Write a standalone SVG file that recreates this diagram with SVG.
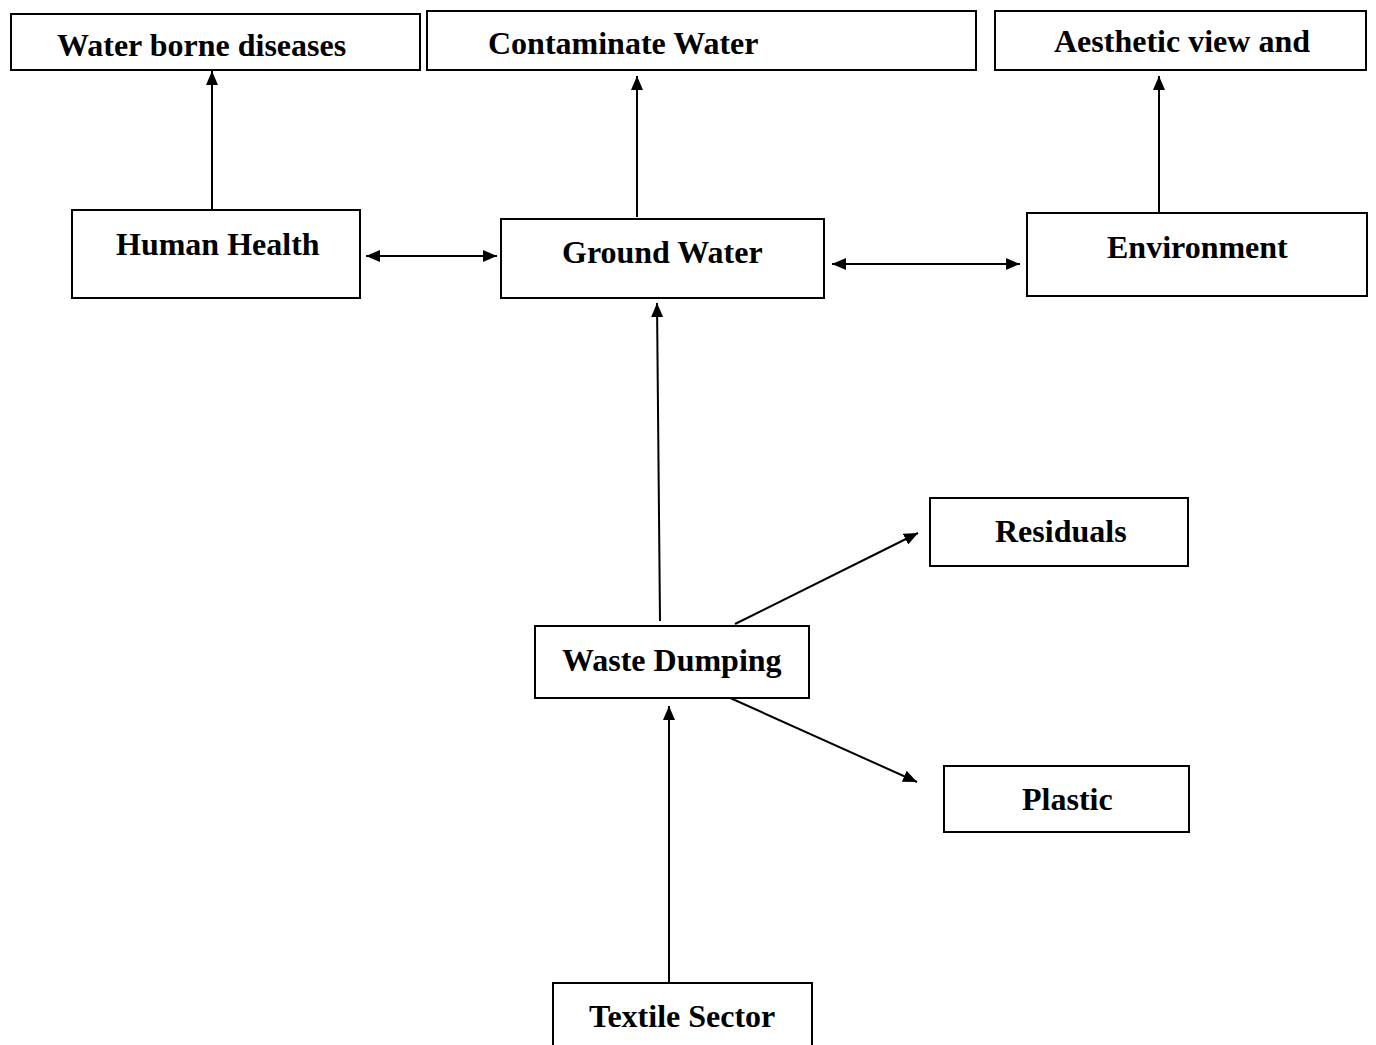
<svg xmlns="http://www.w3.org/2000/svg" width="1376" height="1045" viewBox="0 0 1376 1045">
<style>
.box{fill:#fff;stroke:#000;stroke-width:2}
.lbl{font-family:"Liberation Serif","Times New Roman",serif;font-weight:bold;font-size:32px;fill:#000}
.con{stroke:#000;stroke-width:2;fill:none}
</style>
<defs>
<marker id="ah" viewBox="0 0 14 12" refX="14" refY="6" markerWidth="14" markerHeight="12" markerUnits="userSpaceOnUse" orient="auto-start-reverse">
<path d="M0,0 L14,6 L0,12 z" fill="#000"/>
</marker>
</defs>
<rect width="1376" height="1045" fill="#fff"/>
<g id="connectors">
<line class="con" x1="212" y1="210" x2="212" y2="71" marker-end="url(#ah)"/>
<line class="con" x1="637" y1="217" x2="637" y2="76" marker-end="url(#ah)"/>
<line class="con" x1="1159" y1="212" x2="1159" y2="76" marker-end="url(#ah)"/>
<line class="con" x1="366" y1="256" x2="497" y2="256" marker-start="url(#ah)" marker-end="url(#ah)"/>
<line class="con" x1="832" y1="264" x2="1020" y2="264" marker-start="url(#ah)" marker-end="url(#ah)"/>
<line class="con" x1="660" y1="621" x2="657" y2="303" marker-end="url(#ah)"/>
<line class="con" x1="735" y1="624" x2="918" y2="533" marker-end="url(#ah)"/>
<line class="con" x1="728" y1="697" x2="917" y2="782" marker-end="url(#ah)"/>
<line class="con" x1="669" y1="983" x2="669" y2="706" marker-end="url(#ah)"/>
</g>
<g id="water-borne-diseases"><rect class="box" x="11" y="14" width="409" height="56"/><text class="lbl" x="57" y="56">Water borne diseases</text></g>
<g id="contaminate-water"><rect class="box" x="427" y="11" width="549" height="59"/><text class="lbl" x="488" y="54">Contaminate Water</text></g>
<g id="aesthetic-view"><rect class="box" x="995" y="11" width="371" height="59"/><text class="lbl" x="1054" y="52">Aesthetic view and</text></g>
<g id="human-health"><rect class="box" x="72" y="210" width="288" height="88"/><text class="lbl" x="116" y="255">Human Health</text></g>
<g id="ground-water"><rect class="box" x="501" y="219" width="323" height="79"/><text class="lbl" x="562" y="263">Ground Water</text></g>
<g id="environment"><rect class="box" x="1027" y="213" width="340" height="83"/><text class="lbl" x="1107" y="258">Environment</text></g>
<g id="residuals"><rect class="box" x="930" y="498" width="258" height="68"/><text class="lbl" x="995" y="542">Residuals</text></g>
<g id="waste-dumping"><rect class="box" x="535" y="626" width="274" height="72"/><text class="lbl" x="562" y="671">Waste Dumping</text></g>
<g id="plastic"><rect class="box" x="944" y="766" width="245" height="66"/><text class="lbl" x="1022" y="810">Plastic</text></g>
<g id="textile-sector"><rect class="box" x="553" y="983" width="259" height="80"/><text class="lbl" x="589" y="1027">Textile Sector</text></g>
</svg>
